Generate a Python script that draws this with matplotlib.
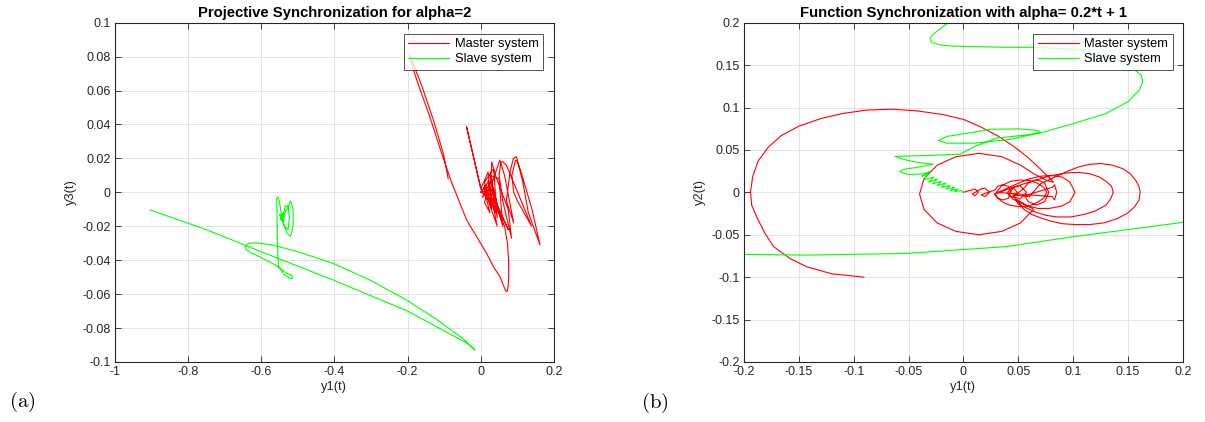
import matplotlib
matplotlib.use("Agg")
import matplotlib.pyplot as plt
import numpy as np

plt.rcParams['font.family'] = ['Liberation Sans', 'DejaVu Sans']
plt.rcParams['mathtext.fontset'] = 'cm'

# ---- panel (a): projective synchronization, y1 vs y3 ----
a_master_x = [-0.089, -0.1025, -0.13, -0.16, -0.185, -0.194, -0.19, -0.17, -0.14, -0.11,
              -0.08, -0.0386, 0.016, 0.035, 0.0525, 0.062, 0.068, 0.072, 0.075, 0.0765, 0.076,
              0.073, 0.065, 0.05, 0.02, 0.003, -0.039, -0.036, 0.0,
              0.02, 0.03, 0.01, 0.035, 0.045, 0.025, 0.05, 0.06, 0.03, 0.052, 0.065, 0.09,
              0.07, 0.08, 0.089, 0.097, 0.1, 0.115, 0.13, 0.162, 0.14, 0.11, 0.1, 0.095, 0.085,
              0.09, 0.1, 0.139, 0.12, 0.07, 0.06, 0.055, 0.05, 0.06, 0.084, 0.075, 0.04, 0.03,
              0.028, 0.04, 0.075, 0.05, 0.02, 0.01, 0.04, 0.02, 0.0, 0.015, 0.005, 0.03, 0.01,
              0.025, 0.008, 0.045, 0.02, 0.055, 0.035, 0.0]
a_master_y = [0.008, 0.023, 0.043, 0.062, 0.076, 0.081, 0.076, 0.063, 0.045, 0.025,
              0.006, -0.0163, -0.036, -0.044, -0.0497, -0.055, -0.058, -0.0585, -0.055, -0.048, -0.04,
              -0.03, -0.02, -0.012, -0.004, 0.0, 0.0387, 0.036, 0.002,
              0.012, -0.01, 0.006, 0.014, -0.015, 0.01, 0.008, -0.02, 0.005, 0.019, 0.01, -0.018,
              -0.005, 0.012, 0.020, 0.021, 0.019, 0.006, -0.012, -0.031, -0.01, 0.012, 0.018, 0.019, 0.01,
              0.0, -0.005, -0.020, -0.01, 0.016, 0.018, 0.018, 0.01, -0.005, -0.027, -0.01, 0.01, 0.018,
              0.01, -0.005, -0.022, -0.01, 0.0, 0.004, -0.012, 0.006, 0.0, 0.004, -0.003, 0.008, -0.006,
              -0.012, 0.003, -0.02, 0.007, -0.016, 0.002, 0.0]

a_slave_x = [-0.904, -0.75, -0.6, -0.4, -0.2, -0.08, -0.045, -0.025, -0.016, -0.02,
             -0.05, -0.12, -0.2026, -0.3, -0.403, -0.5, -0.57, -0.61, -0.635, -0.645, -0.64, -0.625, -0.604,
             -0.56, -0.531, -0.517, -0.514, -0.52, -0.54, -0.553, -0.556, -0.557, -0.558, -0.556, -0.552,
             -0.547, -0.544, -0.53, -0.52, -0.513, -0.513, -0.52, -0.53, -0.54, -0.535,
             -0.527, -0.523, -0.527, -0.537, -0.545, -0.55, -0.538, -0.548, -0.54, -0.545]
a_slave_y = [-0.0104, -0.022, -0.035, -0.052, -0.07, -0.084, -0.088, -0.091, -0.093, -0.092,
             -0.086, -0.075, -0.0635, -0.052, -0.0419, -0.035, -0.031, -0.0298, -0.030, -0.032, -0.034, -0.036, -0.038,
             -0.043, -0.0478, -0.0488, -0.0505, -0.051, -0.048, -0.043, -0.03, -0.01, -0.004, -0.0026, -0.004,
             -0.01, -0.0153, -0.01, -0.005, -0.01, -0.02, -0.026, -0.024, -0.018, -0.008,
             -0.008, -0.015, -0.022, -0.02, -0.015, -0.013, -0.017, -0.016, -0.012, -0.016]

a_xticks = [-1, -0.8, -0.6, -0.4, -0.2, 0, 0.2]
a_xlabels = ['-1', '-0.8', '-0.6', '-0.4', '-0.2', '0', '0.2']
a_yticks = [-0.1, -0.08, -0.06, -0.04, -0.02, 0, 0.02, 0.04, 0.06, 0.08, 0.1]
a_ylabels = ['-0.1', '-0.08', '-0.06', '-0.04', '-0.02', '0', '0.02', '0.04', '0.06', '0.08', '0.1']

# ---- panel (b): function synchronization, y1 vs y2 ----
b_master_x = [0.0, 0.008, 0.0105, 0.0135, 0.0105, 0.008,
              0.016, 0.0196, 0.0236, 0.0196, 0.016,
              0.029, 0.031, 0.036, 0.041, 0.043, 0.041, 0.036, 0.031, 0.029,
              0.041, 0.045, 0.049, 0.045, 0.041,
              0.046, 0.0515, 0.0575, 0.0515, 0.046,
              0.056, 0.059, 0.0667, 0.074, 0.0777, 0.074, 0.0667, 0.059, 0.056,
              0.081, 0.083, 0.085, 0.083, 0.081,
              0.03, 0.035, 0.043, 0.051, 0.06, 0.067, 0.073, 0.076, 0.073, 0.067, 0.06, 0.051, 0.042,
              0.035, 0.028,
              0.045, 0.06, 0.07, 0.08, 0.09, 0.097, 0.1016, 0.097, 0.09, 0.078, 0.068, 0.058, 0.045, 0.04,
              0.045, 0.06, 0.075, 0.085, 0.095, 0.105, 0.115, 0.124, 0.13, 0.135, 0.1365, 0.134, 0.13,
              0.12, 0.11, 0.098, 0.085, 0.075, 0.065, 0.05, 0.045,
              0.06, 0.07, 0.085, 0.095, 0.105, 0.115, 0.125, 0.136, 0.145, 0.152, 0.157, 0.16, 0.161,
              0.16, 0.156, 0.149, 0.14, 0.128, 0.115, 0.102, 0.09, 0.08, 0.07, 0.062, 0.055, 0.048,
              0.064, 0.052, 0.035, 0.014, -0.007, -0.024, -0.036, -0.040, -0.036, -0.024, -0.007,
              0.014, 0.035, 0.052, 0.064, 0.07, 0.076, 0.082,
              0.076, 0.068, 0.058, 0.046, 0.032, 0.016, 0.0, -0.02, -0.042, -0.064, -0.088, -0.11,
              -0.13, -0.15, -0.166, -0.178, -0.187, -0.192, -0.194, -0.193, -0.188, -0.181, -0.173,
              -0.158, -0.143, -0.12, -0.0907]
b_master_y = [0.0, 0.003, 0.004, 0.0, -0.004, -0.002,
              0.004, 0.005, 0.0, -0.005, -0.003,
              0.003, 0.007, 0.009, 0.007, 0.0, -0.007, -0.009, -0.007, -0.002,
              0.004, 0.006, 0.0, -0.006, -0.003,
              0.006, 0.008, 0.0, -0.008, -0.005,
              0.006, 0.011, 0.015, 0.011, 0.0, -0.011, -0.015, -0.011, -0.004,
              0.006, 0.009, 0.0, -0.009, -0.005,
              0.0, 0.008, 0.013, 0.0145, 0.014, 0.011, 0.006, 0.0, -0.007, -0.012, -0.016, -0.017, -0.015,
              -0.011, -0.002,
              0.008, 0.016, 0.019, 0.020, 0.018, 0.012, 0.0, -0.011, -0.016, -0.019, -0.019, -0.016, -0.008, 0.0,
              0.006, 0.012, 0.018, 0.021, 0.023, 0.0235, 0.022, 0.018, 0.013, 0.007, 0.0, -0.008, -0.015,
              -0.022, -0.026, -0.029, -0.029, -0.027, -0.023, -0.014, -0.003,
              -0.005, 0.01, 0.019, 0.025, 0.03, 0.033, 0.034, 0.032, 0.028, 0.022, 0.014, 0.007, 0.0,
              -0.009, -0.017, -0.025, -0.031, -0.036, -0.038, -0.038, -0.037, -0.034, -0.03, -0.026, -0.02, -0.008,
              -0.020, -0.036, -0.046, -0.050, -0.046, -0.036, -0.020, -0.002, 0.016, 0.032, 0.042,
              0.046, 0.042, 0.032, 0.022, 0.018, 0.014, 0.012,
              0.02, 0.03, 0.042, 0.054, 0.066, 0.077, 0.086, 0.092, 0.096, 0.098, 0.097, 0.093,
              0.087, 0.078, 0.067, 0.053, 0.037, 0.019, 0.0007, -0.015, -0.03, -0.048, -0.064,
              -0.078, -0.0877, -0.096, -0.100]

b_slave_top_x = [-0.008, -0.0139, -0.022, -0.028, -0.0305, -0.029, -0.0214, -0.01, 0.0, 0.04, 0.0697,
                 0.11, 0.14, 0.1547, 0.162, 0.1633, 0.16, 0.15, 0.13, 0.1, 0.07, 0.04, 0.01, -0.015,
                 -0.023, -0.015, 0.01, 0.024, 0.05, 0.068, 0.07, 0.06, 0.03, 0.01, -0.003, -0.03,
                 -0.0624, -0.055, -0.045, -0.0275, -0.04, -0.055, -0.058, -0.05, -0.035, -0.03,
                 -0.038, -0.032, -0.036, -0.027, -0.032, -0.024, -0.028, -0.02, -0.024, -0.016,
                 -0.02, -0.012, -0.016, -0.008, -0.012, -0.005, -0.008, -0.002, 0.0]
b_slave_top_y = [0.21, 0.2, 0.192, 0.186, 0.1815, 0.177, 0.1737, 0.1725, 0.172, 0.171, 0.171,
                 0.167, 0.157, 0.146, 0.138, 0.130, 0.12, 0.107, 0.093, 0.081, 0.07, 0.062, 0.058, 0.058,
                 0.061, 0.066, 0.071, 0.0743, 0.0748, 0.073, 0.071, 0.068, 0.064, 0.054, 0.045, 0.0435,
                 0.0425, 0.039, 0.036, 0.033, 0.030, 0.027, 0.0243, 0.021, 0.022, 0.025,
                 0.019, 0.022, 0.015, 0.018, 0.012, 0.016, 0.010, 0.013, 0.008, 0.011,
                 0.006, 0.008, 0.004, 0.006, 0.002, 0.004, 0.001, 0.002, 0.0]
b_slave_low_x = [-0.21, -0.2, -0.143, -0.052, 0.039, 0.100, 0.2, 0.21]
b_slave_low_y = [-0.0731, -0.0731, -0.074, -0.072, -0.064, -0.0523, -0.0354, -0.0335]

b_ticks = [-0.2, -0.15, -0.1, -0.05, 0, 0.05, 0.1, 0.15, 0.2]
b_labels = ['-0.2', '-0.15', '-0.1', '-0.05', '0', '0.05', '0.1', '0.15', '0.2']

RED = '#ff0000'
GREEN = '#00ff00'


def style_axes(ax, xt, xl, yt, yl, xlim, ylim):
    ax.set_xlim(*xlim)
    ax.set_ylim(*ylim)
    ax.set_xticks(xt)
    ax.set_xticklabels(xl)
    ax.set_yticks(yt)
    ax.set_yticklabels(yl)
    ax.grid(True, color='#e3e3e3', linewidth=0.7)
    ax.set_axisbelow(True)
    ax.tick_params(direction='in', length=4, width=0.6, top=True, right=True,
                   labelsize=9, colors='#262626', pad=3)
    for s in ax.spines.values():
        s.set_color('#262626')
        s.set_linewidth(0.8)


def add_legend(ax, x_anchor):
    leg = ax.legend(loc='upper right', bbox_to_anchor=(x_anchor, 0.967), borderaxespad=0,
                    fontsize=9.3, fancybox=False, edgecolor='#262626', handlelength=3.2,
                    labelspacing=0.2, borderpad=0.35, handletextpad=0.4)
    leg.get_frame().set_linewidth(0.7)
    return leg


fig = plt.figure(figsize=(12.05, 4.22), dpi=100)

ax1 = fig.add_axes([0.0954, 0.1422, 0.3643, 0.804])
ax1.plot(a_master_x, a_master_y, color=RED, lw=0.8, label='Master system')
ax1.plot(a_slave_x, a_slave_y, color=GREEN, lw=0.8, label='Slave system')
style_axes(ax1, a_xticks, a_xlabels, a_yticks, a_ylabels, (-1, 0.2), (-0.1, 0.1))
ax1.set_xlabel('y1(t)', fontsize=9.3, color='#262626', labelpad=2)
ax1.set_ylabel('y3(t)', fontsize=9.3, color='#262626', labelpad=4)
ax1.set_title('Projective Synchronization for alpha=2', fontsize=10.7, fontweight='bold', pad=4)
add_legend(ax1, 0.975)

ax2 = fig.add_axes([0.6174, 0.1422, 0.3643, 0.804])
ax2.plot(b_master_x, b_master_y, color=RED, lw=0.8, label='Master system')
ax2.plot(b_slave_top_x, b_slave_top_y, color=GREEN, lw=0.8, label='Slave system')
ax2.plot(b_slave_low_x, b_slave_low_y, color=GREEN, lw=0.8)
style_axes(ax2, b_ticks, b_labels, b_ticks, b_labels, (-0.2, 0.2), (-0.2, 0.2))
ax2.set_xlabel('y1(t)', fontsize=9.3, color='#262626', labelpad=2)
ax2.set_ylabel('y2(t)', fontsize=9.3, color='#262626', labelpad=4)
ax2.set_title('Function Synchronization with alpha= 0.2*t + 1', fontsize=10.7, fontweight='bold', pad=4)
add_legend(ax2, 0.9765)

fig.text(22 / 1205, 1 - 402 / 422, r'$\mathrm{(a)}$', fontsize=15, ha='center', va='center')
fig.text(655 / 1205, 1 - 403 / 422, r'$\mathrm{(b)}$', fontsize=15, ha='center', va='center')

fig.savefig('out.png', dpi=100)
